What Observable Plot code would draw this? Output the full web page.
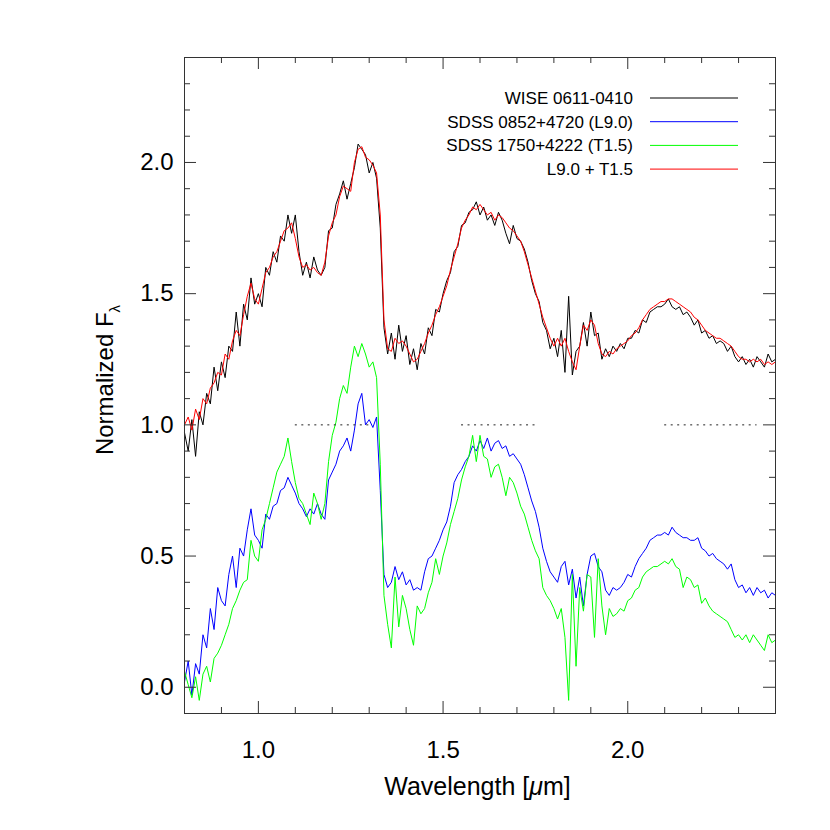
<!DOCTYPE html>
<html>
<head>
<meta charset="utf-8">
<script src="https://cdn.jsdelivr.net/npm/d3@7"></script>
<script src="https://cdn.jsdelivr.net/npm/@observablehq/plot@0.6"></script>
<style>
  html, body { margin: 0; padding: 0; background: #fff; }
  #chart svg { display: block; }
</style>
</head>
<body>
<div id="chart"></div>
<script>
// ---- data ----
const wave = [
  0.80,0.81,0.82,0.83,0.84,0.85,0.86,0.87,0.88,0.89,
  0.90,0.91,0.92,0.93,0.94,0.95,0.96,0.97,0.98,0.99,
  1.00,1.01,1.02,1.03,1.04,1.05,1.06,1.07,1.08,1.09,
  1.10,1.11,1.12,1.13,1.14,1.15,1.16,1.17,1.18,1.19,
  1.20,1.21,1.22,1.23,1.24,1.25,1.26,1.27,1.28,1.29,
  1.30,1.31,1.32,1.33,1.34,1.35,1.36,1.37,1.38,1.39,
  1.40,1.41,1.42,1.43,1.44,1.45,1.46,1.47,1.48,1.49,
  1.50,1.51,1.52,1.53,1.54,1.55,1.56,1.57,1.58,1.59,
  1.60,1.61,1.62,1.63,1.64,1.65,1.66,1.67,1.68,1.69,
  1.70,1.71,1.72,1.73,1.74,1.75,1.76,1.77,1.78,1.79,
  1.80,1.81,1.82,1.83,1.84,1.85,1.86,1.87,1.88,1.89,
  1.90,1.91,1.92,1.93,1.94,1.95,1.96,1.97,1.98,1.99,
  2.00,2.01,2.02,2.03,2.04,2.05,2.06,2.07,2.08,2.09,
  2.10,2.11,2.12,2.13,2.14,2.15,2.16,2.17,2.18,2.19,
  2.20,2.21,2.22,2.23,2.24,2.25,2.26,2.27,2.28,2.29,
  2.30,2.31,2.32,2.33,2.34,2.35,2.36,2.37,2.38,2.39,
  2.40
];

// WISE 0611-0410 (black)
const wise = [
  0.97,0.90,1.02,0.88,1.05,1.00,1.12,1.08,1.22,1.13,
  1.24,1.18,1.30,1.28,1.43,1.30,1.46,1.40,1.56,1.46,
  1.50,1.45,1.60,1.57,1.66,1.62,1.72,1.70,1.80,1.73,
  1.80,1.66,1.57,1.62,1.56,1.64,1.59,1.57,1.60,1.74,
  1.75,1.84,1.88,1.93,1.86,1.92,1.98,2.07,2.05,2.03,
  1.96,2.00,1.94,1.75,1.37,1.27,1.35,1.25,1.38,1.28,
  1.34,1.23,1.29,1.21,1.31,1.27,1.37,1.34,1.44,1.43,
  1.50,1.55,1.58,1.66,1.68,1.76,1.77,1.81,1.82,1.85,
  1.80,1.83,1.78,1.80,1.76,1.81,1.78,1.73,1.69,1.76,
  1.71,1.70,1.67,1.62,1.55,1.50,1.47,1.39,1.36,1.29,
  1.33,1.26,1.36,1.20,1.49,1.19,1.28,1.30,1.39,1.30,
  1.43,1.34,1.35,1.25,1.29,1.26,1.30,1.28,1.31,1.29,
  1.33,1.33,1.36,1.35,1.40,1.39,1.43,1.44,1.45,1.45,
  1.46,1.48,1.45,1.44,1.45,1.42,1.43,1.41,1.38,1.40,
  1.35,1.36,1.33,1.34,1.31,1.32,1.31,1.28,1.30,1.26,
  1.24,1.26,1.23,1.25,1.22,1.26,1.24,1.22,1.27,1.24,
  1.25
];

// SDSS 0852+4720 (L9.0) (blue)
const l90 = [
  0.02,0.10,-0.03,0.09,0.05,0.20,0.15,0.30,0.22,0.38,
  0.33,0.31,0.43,0.50,0.38,0.53,0.50,0.60,0.68,0.58,
  0.56,0.53,0.66,0.64,0.69,0.70,0.75,0.76,0.80,0.77,
  0.74,0.70,0.68,0.65,0.68,0.66,0.70,0.66,0.64,0.79,
  0.82,0.85,0.90,0.92,0.95,0.90,0.98,1.08,1.12,1.00,
  1.02,0.99,1.03,0.75,0.43,0.38,0.40,0.46,0.41,0.44,
  0.39,0.41,0.37,0.38,0.37,0.44,0.49,0.50,0.53,0.56,
  0.60,0.63,0.69,0.78,0.81,0.83,0.86,0.88,0.92,0.90,
  0.94,0.91,0.95,0.90,0.93,0.94,0.91,0.92,0.88,0.89,
  0.87,0.85,0.81,0.76,0.71,0.67,0.61,0.53,0.48,0.44,
  0.42,0.40,0.46,0.48,0.39,0.45,0.34,0.42,0.31,0.43,
  0.50,0.51,0.46,0.44,0.37,0.35,0.38,0.37,0.38,0.40,
  0.43,0.42,0.46,0.49,0.51,0.53,0.56,0.57,0.58,0.58,
  0.59,0.58,0.61,0.59,0.58,0.57,0.57,0.56,0.56,0.57,
  0.53,0.52,0.50,0.51,0.49,0.48,0.47,0.45,0.47,0.41,
  0.38,0.39,0.36,0.38,0.35,0.38,0.36,0.37,0.34,0.36,
  0.35
];

// SDSS 1750+4222 (T1.5) (green)
const t15 = [
  0.06,0.01,-0.04,0.04,-0.05,0.05,0.08,0.02,0.11,0.13,
  0.16,0.20,0.24,0.30,0.33,0.37,0.40,0.41,0.56,0.50,
  0.48,0.60,0.64,0.70,0.76,0.82,0.85,0.88,0.95,0.86,
  0.78,0.72,0.70,0.66,0.62,0.74,0.70,0.64,0.70,0.86,
  0.96,1.01,1.10,1.15,1.12,1.22,1.30,1.26,1.31,1.27,
  1.22,1.24,1.18,0.85,0.35,0.24,0.15,0.42,0.23,0.35,
  0.30,0.22,0.16,0.31,0.28,0.30,0.36,0.40,0.49,0.43,
  0.50,0.55,0.62,0.67,0.72,0.79,0.84,0.88,0.96,0.86,
  0.96,0.88,0.87,0.80,0.84,0.85,0.80,0.73,0.80,0.78,
  0.74,0.69,0.66,0.61,0.56,0.52,0.49,0.38,0.35,0.33,
  0.30,0.26,0.30,0.19,-0.05,0.43,0.08,0.38,0.29,0.43,
  0.42,0.19,0.49,0.31,0.20,0.30,0.27,0.28,0.30,0.29,
  0.33,0.34,0.37,0.38,0.42,0.44,0.45,0.46,0.46,0.47,
  0.48,0.47,0.49,0.46,0.45,0.38,0.42,0.41,0.38,0.39,
  0.32,0.34,0.31,0.29,0.28,0.27,0.26,0.25,0.22,0.19,
  0.20,0.18,0.20,0.17,0.20,0.18,0.16,0.14,0.20,0.17,
  0.18
];

// L9.0 + T1.5 composite (red)
const composite = [
  1.00,1.03,0.98,1.06,1.02,1.10,1.08,1.14,1.16,1.20,
  1.19,1.27,1.25,1.32,1.36,1.34,1.42,1.49,1.54,1.48,
  1.46,1.52,1.58,1.60,1.64,1.66,1.70,1.74,1.75,1.77,
  1.71,1.64,1.60,1.61,1.59,1.60,1.58,1.57,1.62,1.72,
  1.77,1.80,1.87,1.91,1.90,1.89,2.00,2.05,2.06,2.02,
  2.01,1.99,1.96,1.80,1.40,1.29,1.28,1.33,1.31,1.32,
  1.30,1.27,1.24,1.25,1.28,1.31,1.35,1.38,1.42,1.45,
  1.49,1.53,1.59,1.64,1.69,1.75,1.78,1.80,1.83,1.82,
  1.84,1.82,1.80,1.81,1.78,1.80,1.79,1.77,1.75,1.74,
  1.72,1.70,1.66,1.61,1.56,1.51,1.46,1.41,1.37,1.33,
  1.30,1.33,1.30,1.33,1.28,1.24,1.21,1.30,1.38,1.36,
  1.40,1.38,1.31,1.27,1.26,1.28,1.27,1.29,1.30,1.31,
  1.32,1.34,1.35,1.37,1.40,1.42,1.44,1.45,1.46,1.47,
  1.47,1.48,1.48,1.47,1.46,1.45,1.44,1.43,1.41,1.40,
  1.38,1.36,1.35,1.34,1.33,1.33,1.32,1.31,1.30,1.28,
  1.26,1.25,1.25,1.24,1.25,1.24,1.25,1.23,1.24,1.23,
  1.24
];

// normalization regions (dotted at F = 1)
const normStart = [1.10, 1.55, 2.10];
const normEnd   = [1.30, 1.75, 2.35];
const normLevel = 1.0;

// ticks
const xMajor = [1.0, 1.5, 2.0];
const xMinor = [0.8,0.9,1.1,1.2,1.3,1.4,1.6,1.7,1.8,1.9,2.1,2.2,2.3,2.4];
const yMajor = [0.0, 0.5, 1.0, 1.5, 2.0];
const yMinor = [-0.1,0.1,0.2,0.3,0.4,0.6,0.7,0.8,0.9,1.1,1.2,1.3,1.4,1.6,1.7,1.8,1.9,2.1,2.2,2.3,2.4];

// legend
const legendNames  = ["WISE 0611-0410", "SDSS 0852+4720 (L9.0)", "SDSS 1750+4222 (T1.5)", "L9.0 + T1.5"];
const legendColors = ["#000000", "#0000ff", "#00ff00", "#ff0000"];

// ---- chart ----
const W = 830, H = 830;
const mL = 184, mR = 55, mT = 57, mB = 117;
const innerH = H - mT - mB;
const innerW = W - mL - mR;
const FONT = "'Liberation Sans', Arial, Helvetica, sans-serif";
const tickColor = "#333";

const regions = normStart.map((s, i) => ({x1: s, x2: normEnd[i], y: normLevel}));

const plot = Plot.plot({
  width: W, height: H,
  marginLeft: mL, marginRight: mR, marginTop: mT, marginBottom: mB,
  style: {fontFamily: FONT, background: "#fff", color: "#000"},
  x: {domain: [0.8, 2.4], label: null, axis: null},
  y: {domain: [-0.1, 2.4], label: null, axis: null},
  marks: [
    // spectra
    Plot.line(wave, {x: wave, y: l90, stroke: legendColors[1], strokeWidth: 1}),
    Plot.line(wave, {x: wave, y: t15, stroke: legendColors[2], strokeWidth: 1}),
    Plot.line(wave, {x: wave, y: wise, stroke: legendColors[0], strokeWidth: 1}),
    Plot.line(wave, {x: wave, y: composite, stroke: legendColors[3], strokeWidth: 1}),
    // dotted normalization regions
    Plot.ruleY(regions, {y: "y", x1: "x1", x2: "x2", stroke: "#222", strokeWidth: 1, strokeDasharray: "2,4.5"}),
    // inward ticks, all four sides
    Plot.tickX(xMajor, {x: d => d, insetTop: innerH - 12, stroke: tickColor}),
    Plot.tickX(xMajor, {x: d => d, insetBottom: innerH - 12, stroke: tickColor}),
    Plot.tickX(xMinor, {x: d => d, insetTop: innerH - 6, stroke: tickColor}),
    Plot.tickX(xMinor, {x: d => d, insetBottom: innerH - 6, stroke: tickColor}),
    Plot.tickY(yMajor, {y: d => d, insetRight: innerW - 12, stroke: tickColor}),
    Plot.tickY(yMajor, {y: d => d, insetLeft: innerW - 12, stroke: tickColor}),
    Plot.tickY(yMinor, {y: d => d, insetRight: innerW - 6, stroke: tickColor}),
    Plot.tickY(yMinor, {y: d => d, insetLeft: innerW - 6, stroke: tickColor}),
    // tick labels
    Plot.axisX(xMajor, {anchor: "bottom", tickSize: 0, tickPadding: 27, tickFormat: d3.format(".1f"), fontSize: 24, label: null}),
    Plot.axisY(yMajor, {anchor: "left", tickSize: 0, tickPadding: 11, tickFormat: d3.format(".1f"), fontSize: 24, label: null}),
    Plot.frame({stroke: tickColor, strokeWidth: 1})
  ]
});

document.getElementById("chart").appendChild(plot);

// axis titles and legend
const svg = d3.select(plot);
svg.append("text")
  .attr("x", (mL + W - mR) / 2 - 2).attr("y", 795)
  .attr("text-anchor", "middle")
  .attr("font-size", 25).attr("font-family", FONT).attr("fill", "#000")
  .call(t => {
    t.append("tspan").text("Wavelength [");
    t.append("tspan").attr("font-style", "italic").text("μ");
    t.append("tspan").text("m]");
  });

const yl = svg.append("text")
  .attr("transform", `translate(113, 380) rotate(-90)`)
  .attr("text-anchor", "middle")
  .attr("font-size", 24).attr("font-family", FONT).attr("fill", "#000");
yl.append("tspan").text("Normalized F");
yl.append("tspan").attr("font-size", 15).attr("dy", 7).text("λ");

const lg = svg.append("g").attr("font-family", FONT).attr("font-size", 17).attr("fill", "#000");
legendNames.forEach((name, i) => {
  const cy = 98 + i * 23.7;
  lg.append("text").attr("x", 633).attr("y", cy + 6).attr("text-anchor", "end").text(name);
  lg.append("line").attr("x1", 650).attr("x2", 738).attr("y1", cy).attr("y2", cy)
    .attr("stroke", legendColors[i]).attr("stroke-width", 1);
});
</script>
</body>
</html>
